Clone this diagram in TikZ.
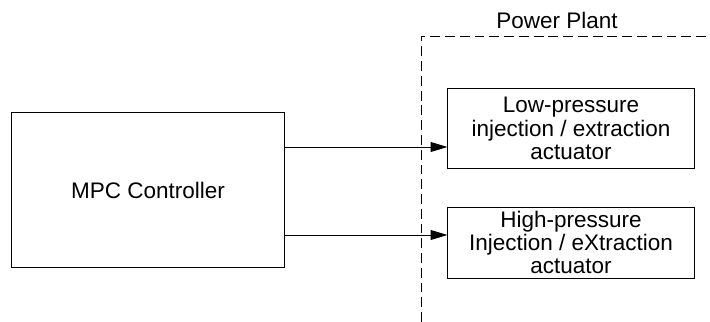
\documentclass[tikz,border=0pt]{standalone}
\usepackage{fontspec}
\setmainfont{Liberation Sans}
\usepackage{tikz}
\usetikzlibrary{arrows.meta, positioning}

\begin{document}
\begin{tikzpicture}[
    x=0.025cm, y=-0.025cm,
    every node/.style={font=\fontsize{16}{16.5}\selectfont},
    block/.style={
        draw, rectangle, line width=0.7pt,
        text centered, align=center, inner sep=0pt
    },
    arrow/.style={line width=0.7pt, -{Triangle[length=12pt,width=7pt]}},
    plant/.style={line width=0.7pt, dash pattern=on 7pt off 3.5pt}
]
\useasboundingbox (0,0) rectangle (710,322);

% --- Controller on the left
\node (mpc)  [block, minimum width=6.8cm,  minimum height=3.85cm]  at (148,190)   {MPC Controller};

% --- Actuators inside the plant
\node (low)  [block, minimum width=6.15cm, minimum height=1.975cm] at (571,128.5) {Low-pressure\\injection / extraction\\actuator};
\node (high) [block, minimum width=6.15cm, minimum height=1.775cm] at (571,242.5) {High-pressure\\Injection / eXtraction\\actuator};

% --- Power plant boundary
\coordinate (pbot) at (421,322);
\coordinate (ptop) at (421,36);
\coordinate (pend) at (710,36);
\draw [plant] (pbot) -- (ptop) -- (pend);
\node (plabel) at (557,20) {Power Plant};

% --- Control signals
\draw [arrow] (mpc.east |- 0,147) -- (low.west |- 0,147);
\draw [arrow] (mpc.east |- 0,235) -- (high.west |- 0,235);

\end{tikzpicture}
\end{document}
